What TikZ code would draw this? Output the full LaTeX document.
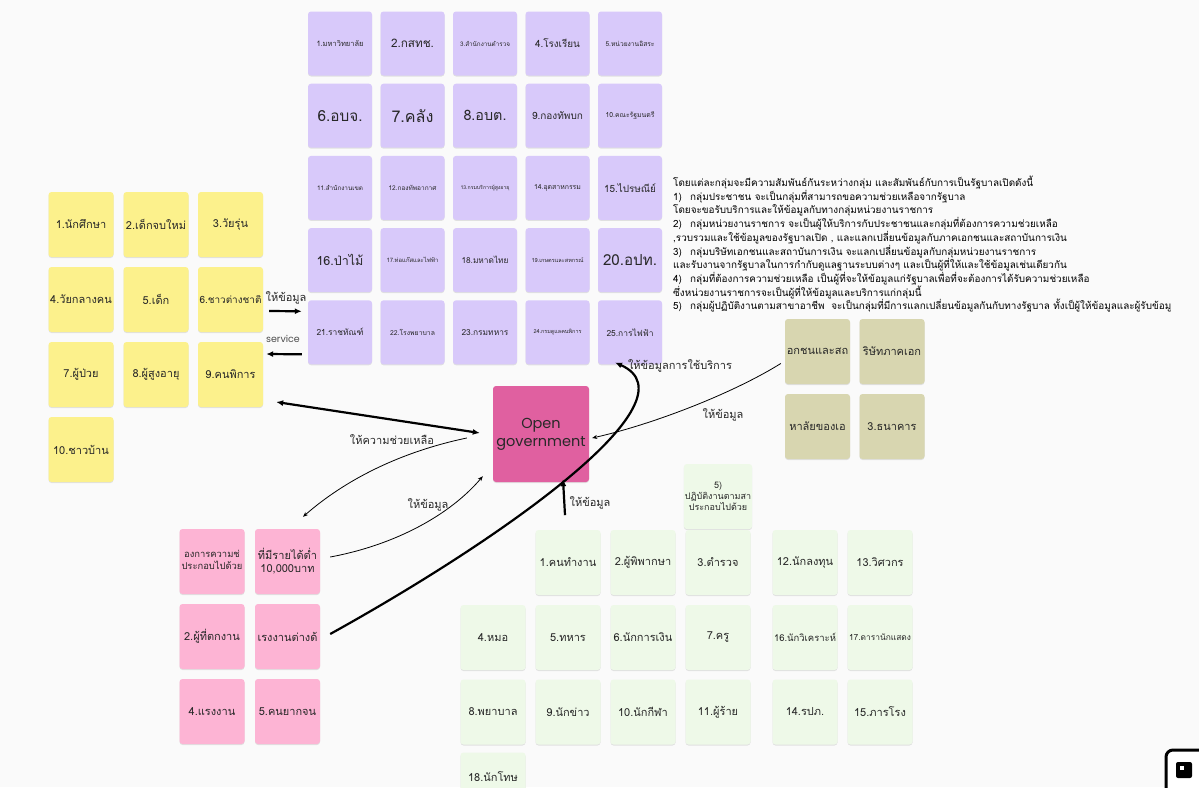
\documentclass[tikz,border=0pt]{standalone}
\usepackage{fontspec}
\usepackage{graphicx}
\setmainfont[Script=Thai]{Loma}
\newfontfamily\popf{Poppins}
\usetikzlibrary{arrows.meta,shadows,calc}
\definecolor{bgc}{RGB}{250,250,250}
\definecolor{purp}{RGB}{216,201,250}
\definecolor{yel}{RGB}{252,241,140}
\definecolor{oli}{RGB}{216,214,176}
\definecolor{pnk}{RGB}{253,180,212}
\definecolor{grn}{RGB}{238,249,232}
\definecolor{ogc}{RGB}{224,96,160}
\definecolor{txt}{RGB}{40,40,40}
\newcommand\fw[2]{\resizebox{#1pt}{!}{#2}}
\tikzset{
  note/.style={rounded corners=3pt, minimum width=65pt, minimum height=65pt, inner sep=1pt,
    align=center, text=txt, font=\fontsize{11}{13}\selectfont,
    drop shadow={shadow xshift=0pt, shadow yshift=-1pt, opacity=0.10, fill=black}},
  pnote/.style={note, fill=purp, minimum width=64pt, minimum height=64pt},
  ynote/.style={note, fill=yel},
  onote/.style={note, fill=oli},
  knote/.style={note, fill=pnk},
  gnote/.style={note, fill=grn},
  thk/.style={line width=2.2pt, -{Latex[length=7pt,width=6pt]}},
  thn/.style={line width=0.8pt, -{Stealth[length=5pt,width=4pt]}},
  lbl/.style={font=\fontsize{11}{13}\selectfont, text=txt, inner sep=1pt},
  para/.style={anchor=west, font=\fontsize{9.9}{12}\selectfont, text=black, inner sep=0pt}
}
\begin{document}
\begin{tikzpicture}[x=1pt,y=-1pt]
\clip (0,0) rectangle (1199,787);
\fill[bgc] (0,0) rectangle (1199,787);

% purple government grid
\node[pnote] (p1)  at (340,43.5)  {\fw{47}{1.มหาวิทยาลัย}};
\node[pnote] (p2)  at (412.5,43.5){\fw{43}{2.กสทช.}};
\node[pnote] (p3)  at (485,43.5)  {\fw{50}{3.สำนักงานตำรวจ}};
\node[pnote] (p4)  at (557.5,43.5){\fw{45}{4.โรงเรียน}};
\node[pnote] (p5)  at (630,43.5)  {\fw{49}{5.หน่วยงานอิสระ}};
\node[pnote] (p6)  at (340,115.7) {\fw{45}{6.อบจ.}};
\node[pnote] (p7)  at (412.5,115.7){\fw{42}{7.คลัง}};
\node[pnote] (p8)  at (485,115.7) {\fw{43}{8.อบต.}};
\node[pnote] (p9)  at (557.5,115.7){\fw{51}{9.กองทัพบก}};
\node[pnote] (p10) at (630,115.7) {\fw{49}{10.คณะรัฐมนตรี}};
\node[pnote] (p11) at (340,187.9) {\fw{46}{11.สำนักงานเขต}};
\node[pnote] (p12) at (412.5,187.9){\fw{48}{12.กองทัพอากาศ}};
\node[pnote] (p13) at (485,187.9) {\fw{49}{13.กรมบริการผู้สูงอายุ}};
\node[pnote] (p14) at (557.5,187.9){\fw{47}{14.อุตสาหกรรม}};
\node[pnote] (p15) at (630,187.9) {\fw{52}{15.ไปรษณีย์}};
\node[pnote] (p16) at (340,260.1) {\fw{47}{16.ป่าไม้}};
\node[pnote] (p17) at (412.5,260.1){\fw{52}{17.ท่อแก๊สและไฟฟ้า}};
\node[pnote] (p18) at (485,260.1) {\fw{47}{18.มหาดไทย}};
\node[pnote] (p19) at (557.5,260.1){\fw{52}{19.เกษตรและสหกรณ์}};
\node[pnote] (p20) at (630,260.1) {\fw{54}{20.อปท.}};
\node[pnote] (p21) at (340,332.3) {\fw{47}{21.ราชทัณฑ์}};
\node[pnote] (p22) at (412.5,332.3){\fw{45}{22.โรงพยาบาล}};
\node[pnote] (p23) at (485,332.3) {\fw{47}{23.กรมทหาร}};
\node[pnote] (p24) at (557.5,332.3){\fw{48}{24.กรมดูแลคนพิการ}};
\node[pnote] (p25) at (630,332.3) {\fw{47}{25.การไฟฟ้า}};

% yellow citizens grid
\node[ynote] (y1)  at (81,224.5)   {1.นักศึกษา};
\node[ynote] (y2)  at (156,224.5)  {2.เด็กจบใหม่};
\node[ynote] (y3)  at (230.5,224.5){3.วัยรุ่น};
\node[ynote] (y4)  at (81,299.5)   {4.วัยกลางคน};
\node[ynote] (y5)  at (156,299.5)  {5.เด็ก};
\node[ynote] (y6)  at (230.5,299.5){\fw{62}{6.ชาวต่างชาติ}};
\node[ynote] (y7)  at (81,374.5)   {7.ผู้ป่วย};
\node[ynote] (y8)  at (156,374.5)  {8.ผู้สูงอายุ};
\node[ynote] (y9)  at (230.5,374.5){9.คนพิการ};
\node[ynote] (y10) at (81,449.5)   {10.ชาวบ้าน};

% olive private grid
\node[onote] (o1) at (817.5,351.5) {อกชนและสถ};
\node[onote] (o2) at (892,351.5)   {ริษัทภาคเอก};
\node[onote] (o3) at (817.5,426.5) {หาลัยของเอ};
\node[onote] (o4) at (892,426.5)   {3.ธนาคาร};

% pink needing help grid
\node[knote] (k1) at (212,561.5)   {\fw{61}{\begin{tabular}{@{}c@{}}องการความช่\\ประกอบไปด้วย\end{tabular}}};
\node[knote] (k2) at (287.5,561.5) {ที่มีรายได้ต่ำ\\10,000บาท};
\node[knote] (k3) at (212,636.5)   {2.ผู้ที่ตกงาน};
\node[knote] (k4) at (287.5,636.5) {เรงงานต่างด้};
\node[knote] (k5) at (212,711.5)   {4.แรงงาน};
\node[knote] (k6) at (287.5,711.5) {5.คนยากจน};

% green professions grid
\node[gnote, font=\fontsize{9}{11}\selectfont] (g0) at (718,496.5) {5)\\ปฏิบัติงานตามสา\\ประกอบไปด้วย};
\node[gnote] (g1)  at (568,562.5) {1.คนทำงาน};
\node[gnote] (g2)  at (643,562.5) {2.ผู้พิพากษา};
\node[gnote] (g3)  at (718,562.5) {3.ตำรวจ};
\node[gnote] (g12) at (805,562.5) {12.นักลงทุน};
\node[gnote] (g13) at (880,562.5) {13.วิศวกร};
\node[gnote] (g4)  at (493,637.5) {4.หมอ};
\node[gnote] (g5)  at (568,637.5) {5.ทหาร};
\node[gnote] (g6)  at (643,637.5) {6.นักการเงิน};
\node[gnote] (g7)  at (718,637.5) {7.ครู};
\node[gnote] (g16) at (805,637.5) {\fw{62}{16.นักวิเคราะห์}};
\node[gnote] (g17) at (880,637.5) {\fw{62}{17.ดารานักแสดง}};
\node[gnote] (g8)  at (493,712) {8.พยาบาล};
\node[gnote] (g9)  at (568,712) {9.นักข่าว};
\node[gnote] (g10) at (643,712) {10.นักกีฬา};
\node[gnote] (g11) at (718,712) {11.ผู้ร้าย};
\node[gnote] (g14) at (805,712) {14.รปภ.};
\node[gnote] (g15) at (880,712) {15.ภารโรง};
\node[gnote, text depth=16pt] (g18) at (493,785) {18.นักโทษ};

% open government
\node[note, fill=ogc, minimum width=96pt, minimum height=96pt, font=\popf\fontsize{14.5}{18}\selectfont] (og) at (541,434) {Open\\government};

% paragraph
\node[para] (t1) at (673,183) {โดยแต่ละกลุ่มจะมีความสัมพันธ์กันระหว่างกลุ่ม และสัมพันธ์กับการเป็นรัฐบาลเปิดดังนี้};
\node[para] (t2) at (673,196.7) {\makebox[17pt][l]{1)}กลุ่มประชาชน จะเป็นกลุ่มที่สามารถขอความช่วยเหลือจากรัฐบาล};
\node[para] (t3) at (673,210.4) {โดยจะขอรับบริการและให้ข้อมูลกับทางกลุ่มหน่วยงานราชการ};
\node[para] (t4) at (673,224.0) {\makebox[17pt][l]{2)}กลุ่มหน่วยงานราชการ จะเป็นผู้ให้บริการกับประชาชนและกลุ่มที่ต้องการความช่วยเหลือ};
\node[para] (t5) at (673,237.7) {,รวบรวมและใช้ข้อมูลของรัฐบาลเปิด , และแลกเปลี่ยนข้อมูลกับภาคเอกชนและสถาบันการเงิน};
\node[para] (t6) at (673,251.4) {\makebox[17pt][l]{3)}กลุ่มบริษัทเอกชนและสถาบันการเงิน จะแลกเปลี่ยนข้อมูลกับกลุ่มหน่วยงานราชการ};
\node[para] (t7) at (673,265.0) {และรับงานจากรัฐบาลในการกำกับดูแลฐานระบบต่างๆ และเป็นผู้ที่ให้และใช้ข้อมูลเช่นเดียวกัน};
\node[para] (t8) at (673,278.7) {\makebox[17pt][l]{4)}กลุ่มที่ต้องการความช่วยเหลือ เป็นผู้ที่จะให้ข้อมูลแก่รัฐบาลเพื่อที่จะต้องการได้รับความช่วยเหลือ};
\node[para] (t9) at (673,292.4) {ซึ่งหน่วยงานราชการจะเป็นผู้ที่ให้ข้อมูลและบริการแก่กลุ่มนี้};
\node[para] (t10) at (673,306.0) {\makebox[17pt][l]{5)}กลุ่มผู้ปฏิบัติงานตามสาขาอาชีพ\ \ จะเป็นกลุ่มที่มีการแลกเปลี่ยนข้อมูลกันกับทางรัฐบาล ทั้งเป็ผู้ให้ข้อมูลและผู้รับข้อมู};

% connectors
\draw[thk] ($(y6.east)+(6,11.5)$) -- ($(p21.west)+(-6,-21)$);
\node[lbl] (l1) at (286,298) {ให้ข้อมูล};
\draw[thk] ($(p21.west)+(-6,22)$) -- ($(y9.east)+(3,-20.5)$);
\node[lbl, font=\popf\fontsize{9.5}{11}\selectfont, text=black!70] (l2) at (283,339) {service};
\draw[thk, {Latex[length=7pt,width=6pt]}-{Latex[length=7pt,width=6pt]}] ($(y9.east)+(13,27.5)$) -- ($(og.west)+(-13,-1)$);
\node[lbl] (l3) at (392,440) {ให้ความช่วยเหลือ};
\draw[thn] ($(og.west)+(-26,4)$) .. controls (400,452) and (345,480) .. ($(k2.north)+(15.5,-12)$);
\draw[thn] ($(k2.east)+(10,-4.5)$) .. controls (395,545) and (450,515) .. ($(og.south west)+(-10,-6)$);
\node[lbl] (l4) at (428,505) {ให้ข้อมูล};
\draw[thk] ($(k4.east)+(10,-2.5)$) .. controls (500,540) and (700,400) .. ($(p25.south)+(-15,-2)$);
\node[lbl] (l5) at (680,366) {ให้ข้อมูลการใช้บริการ};
\draw[thn] ($(o1.west)+(-4,12)$) .. controls (730,395) and (650,425) .. ($(og.east)+(3,4)$);
\node[lbl] (l6) at (723,415) {ให้ข้อมูล};
\draw[thk] ($(og.south)+(24,33)$) -- ($(og.south)+(22,-3)$);
\node[lbl] (l7) at (590,503) {ให้ข้อมูล};

% corner widget
\draw[line width=3pt, fill=white, rounded corners=7pt] (1166,750) rectangle (1215,800);
\fill[black, rounded corners=2pt] (1176,762) rectangle (1192,778);
\fill[white] (1180,766) rectangle (1184,770);
\end{tikzpicture}
\end{document}
